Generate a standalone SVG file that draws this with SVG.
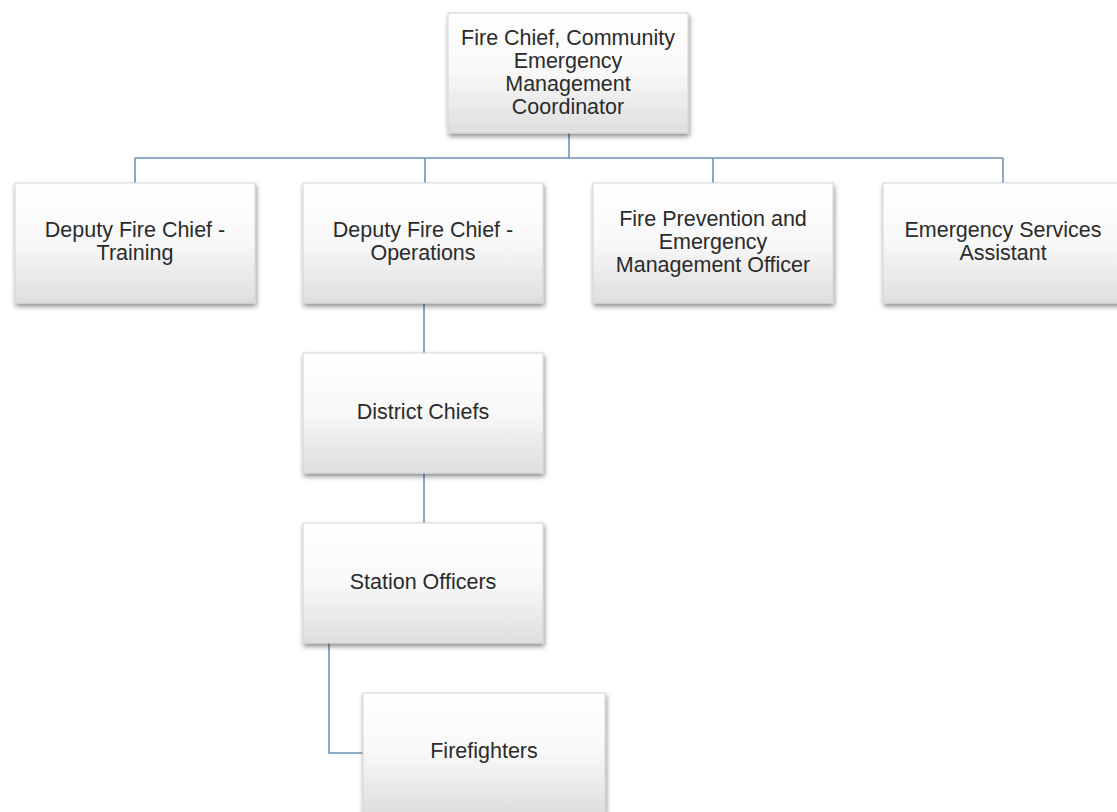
<svg xmlns="http://www.w3.org/2000/svg" width="1117" height="812" viewBox="0 0 1117 812">
<style>
.box{fill:url(#g);stroke:#d4d4d4;stroke-width:1;filter:url(#sh)}
.t{font-family:"Liberation Sans",Arial,sans-serif;font-size:21.5px;fill:#2b2b2b;text-anchor:middle}
.c{fill:none;stroke:#6f93b6;stroke-width:1.6}
</style>
<defs>
<linearGradient id="g" x1="0" y1="0" x2="0" y2="1">
<stop offset="0" stop-color="#ffffff"/>
<stop offset="0.5" stop-color="#f8f8f8"/>
<stop offset="1" stop-color="#dedede"/>
</linearGradient>
<filter id="sh" x="-10%" y="-10%" width="125%" height="130%">
<feDropShadow dx="1" dy="3" stdDeviation="2.5" flood-color="#000" flood-opacity="0.45"/>
</filter>
</defs>
<rect width="1117" height="812" fill="#ffffff"/>
<g id="connectors">
<path class="c" d="M569 133V158M135 158H1003M135 158V183M425 158V183M713 158V183M1003 158V183"/>
<path class="c" d="M424 303V353M424 473V523M329 643V753H363"/>
</g>
<g id="chief"><rect class="box" x="448" y="13" width="240" height="120"/>
<text class="t" x="568" y="45">Fire Chief, Community</text><text class="t" x="568" y="68">Emergency</text><text class="t" x="568" y="91">Management</text><text class="t" x="568" y="114">Coordinator</text></g>
<g id="training"><rect class="box" x="15" y="183" width="240" height="120"/>
<text class="t" x="135" y="237">Deputy Fire Chief -</text><text class="t" x="135" y="260">Training</text></g>
<g id="operations"><rect class="box" x="303" y="183" width="240" height="120"/>
<text class="t" x="423" y="237">Deputy Fire Chief -</text><text class="t" x="423" y="260">Operations</text></g>
<g id="prevention"><rect class="box" x="593" y="183" width="240" height="120"/>
<text class="t" x="713" y="226">Fire Prevention and</text><text class="t" x="713" y="249">Emergency</text><text class="t" x="713" y="272">Management Officer</text></g>
<g id="assistant"><rect class="box" x="883" y="183" width="240" height="120"/>
<text class="t" x="1003" y="237">Emergency Services</text><text class="t" x="1003" y="260">Assistant</text></g>
<g id="district"><rect class="box" x="303" y="353" width="240" height="120"/>
<text class="t" x="423" y="419">District Chiefs</text></g>
<g id="station"><rect class="box" x="303" y="523" width="240" height="120"/>
<text class="t" x="423" y="589">Station Officers</text></g>
<g id="firefighters"><rect class="box" x="363" y="693" width="242" height="120"/>
<text class="t" x="484" y="758">Firefighters</text></g>
</svg>
